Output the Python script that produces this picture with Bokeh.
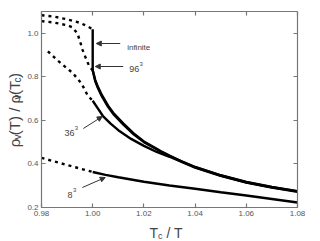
import math
from bokeh.plotting import figure
from bokeh.layouts import row, column
from bokeh.models import (LinearAxis, FixedTicker, PrintfTickFormatter, Label,
                          Arrow, NormalHead, Range1d)
from bokeh.embed import file_html
from bokeh.resources import INLINE

# ---------------- data ----------------
x_ticks = [0.98, 1.00, 1.02, 1.04, 1.06, 1.08]
y_ticks = [0.2, 0.4, 0.6, 0.8, 1.0]

inf_dash_x = [0.98, 0.985, 0.99, 0.995, 0.998, 1.0]
inf_dash_y = [1.083, 1.076, 1.064, 1.048, 1.032, 1.018]
inf_x = [1.0, 1.0, 1.001, 1.002, 1.0035, 1.006, 1.008, 1.012, 1.016, 1.02,
         1.0267, 1.03, 1.035, 1.04, 1.05, 1.06, 1.07, 1.08]
inf_y = [1.018, 0.83, 0.785, 0.755, 0.718, 0.668, 0.635, 0.585, 0.54, 0.503,
         0.458, 0.438, 0.41, 0.386, 0.348, 0.317, 0.294, 0.275]

n96_dash_x = [0.98, 0.985, 0.99, 0.992, 0.994, 0.995, 0.996, 0.9975, 0.9987, 1.0]
n96_dash_y = [1.056, 1.049, 1.037, 1.028, 1.0, 0.965, 0.925, 0.88, 0.848, 0.83]
n96_x = [1.0, 1.001, 1.002, 1.0035, 1.006, 1.008, 1.012, 1.016, 1.02,
         1.0267, 1.03, 1.04, 1.05, 1.06, 1.07, 1.08]
n96_y = [0.83, 0.78, 0.75, 0.712, 0.662, 0.63, 0.58, 0.536, 0.5,
         0.456, 0.436, 0.385, 0.347, 0.316, 0.293, 0.274]

n36_dash_x = [0.9825, 0.9862, 0.9909, 0.992, 0.9956, 0.998, 1.0]
n36_dash_y = [0.917, 0.876, 0.83, 0.82, 0.77, 0.715, 0.69]
n36_x = [1.0, 1.002, 1.004, 1.007, 1.01, 1.015, 1.02, 1.025, 1.03,
         1.04, 1.05, 1.06, 1.07, 1.08]
n36_y = [0.69, 0.655, 0.62, 0.585, 0.555, 0.515, 0.483, 0.455, 0.433,
         0.383, 0.345, 0.314, 0.291, 0.272]

n8_dash_x = [0.98, 0.99, 1.0]
n8_dash_y = [0.428, 0.395, 0.363]
n8_x = [1.0, 1.005, 1.01, 1.02, 1.03, 1.04, 1.05, 1.06, 1.07, 1.08]
n8_y = [0.363, 0.35, 0.339, 0.318, 0.301, 0.286, 0.27, 0.255, 0.239, 0.223]

# ---------------- layout (page pixels) ----------------
YLW = 24            # width of the strip holding the y title
MH = 221            # height of the main plot
TW, TH = 310, 241   # total size
FL, FR, FT, FB = 40, 297, 11, 207      # frame edges on the page
X0, X1, Y0, Y1 = 0.98, 1.08, 0.2, 1.1

def dx(px):
    return X0 + (px - FL) * (X1 - X0) / (FR - FL)

def dy(py):
    return Y0 + (FB - py) * (Y1 - Y0) / (FB - FT)

MW = TW - YLW
p = figure(width=MW, height=MH, output_backend="svg", toolbar_location=None,
           x_range=Range1d(X0, X1), y_range=Range1d(Y0, Y1),
           min_border_left=FL - YLW, min_border_right=MW - (FR - YLW),
           min_border_top=FT, min_border_bottom=MH - FB,
           x_axis_location=None, y_axis_location=None)
p.outline_line_color = None
p.xgrid.visible = False
p.ygrid.visible = False
p.background_fill_color = "white"
p.border_fill_color = "white"

AX = "#777777"
FONT = "Liberation Sans"

def style_axis(ax, ticks, fmt, labels=True):
    ax.ticker = FixedTicker(ticks=ticks)
    ax.formatter = PrintfTickFormatter(format=fmt)
    ax.axis_line_color = AX
    ax.axis_line_width = 1.2
    ax.major_tick_line_color = AX
    ax.major_tick_line_width = 1.2
    ax.major_tick_in = 4
    ax.major_tick_out = 0
    ax.minor_tick_line_color = None
    if labels:
        ax.major_label_text_font = FONT
        ax.major_label_text_font_size = "8px"
        ax.major_label_text_color = "#555555"
        ax.major_label_standoff = 3
    else:
        ax.major_label_text_font_size = "1px"
        ax.major_label_text_color = None
        ax.major_label_standoff = 0

xb = LinearAxis(); style_axis(xb, x_ticks, "%.2f")
yl = LinearAxis(); style_axis(yl, y_ticks, "%.1f")
xt = LinearAxis(); style_axis(xt, x_ticks, "%.2f", labels=False)
yr = LinearAxis(); style_axis(yr, y_ticks, "%.1f", labels=False)
p.add_layout(xb, "below")
p.add_layout(yl, "left")
p.add_layout(xt, "above")
p.add_layout(yr, "right")

LW = 2.4
DASH = "3 4"
for xs, ys in [(inf_dash_x, inf_dash_y), (n96_dash_x, n96_dash_y),
               (n36_dash_x, n36_dash_y), (n8_dash_x, n8_dash_y)]:
    p.line(xs, ys, line_color="black", line_width=LW, line_dash=DASH)
for xs, ys in [(inf_x, inf_y), (n96_x, n96_y), (n36_x, n36_y), (n8_x, n8_y)]:
    p.line(xs, ys, line_color="black", line_width=LW)

TXT = "#444444"

def lab(fig, text, x, y, size, angle=0.0, color=TXT):
    fig.add_layout(Label(x=x, y=y, text=text, text_font=FONT,
                         text_font_size=f"{size}px", text_color=color,
                         angle=angle, text_baseline="alphabetic",
                         text_align="left"))

def arrow(x0, y0, x1, y1):
    p.add_layout(Arrow(x_start=dx(x0), y_start=dy(y0), x_end=dx(x1), y_end=dy(y1),
                       line_color="#333333", line_width=1,
                       end=NormalHead(size=5, fill_color="#333333",
                                      line_color="#333333")))

def plab(text, px, py, size):
    lab(p, text, dx(px), dy(py), size)

plab("infinite", 126, 47, 8)
arrow(119, 43, 95, 43)
plab("96", 128, 68, 9)
plab("3", 138.5, 63, 6)
arrow(122, 66, 94, 66)
plab("36", 63, 132, 9)
plab("3", 73.5, 127, 6)
arrow(82, 128, 101, 116)
plab("8", 66, 194, 9)
plab("3", 71.5, 189, 6)
arrow(81, 187, 104, 177)

def blank(w, h, xr, yr_):
    f = figure(width=w, height=h, output_backend="svg", toolbar_location=None,
               x_range=xr, y_range=yr_, min_border=0,
               x_axis_location=None, y_axis_location=None)
    f.outline_line_color = None
    f.xgrid.visible = False
    f.ygrid.visible = False
    return f

MAIN, SUB = 14, 9

# y title strip (data coords = page pixels)
ylab = blank(YLW, MH, Range1d(0, YLW), Range1d(MH, 0))
A = math.pi / 2
bx, sbx = 14, 17
yy = 153
pieces = [("\u03c1", MAIN + 1, 8.6, False), ("v", SUB + 1, 5.0, True),
          ("(T) / \u03c1", MAIN + 1, 40.2, False), ("v", SUB + 1, 5.0, True),
          ("(T", MAIN + 1, 14.2, False), ("c", SUB + 1, 5.0, True),
          (")", MAIN + 1, 5.0, False)]
for t, s, w, sub in pieces:
    lab(ylab, t, sbx if sub else bx, yy, s, angle=A)
    yy -= w

# x title strip (data coords = page pixels)
xlab = blank(TW, TH - MH, Range1d(0, TW), Range1d(TH, MH))
lab(xlab, "T", 149, 232, MAIN)
lab(xlab, "c", 157.6, 235, SUB)
lab(xlab, "/ T", 166, 232, MAIN)

layout = column(row(ylab, p, spacing=0), xlab, spacing=0)
open("out.html", "w").write(file_html(layout, INLINE))
